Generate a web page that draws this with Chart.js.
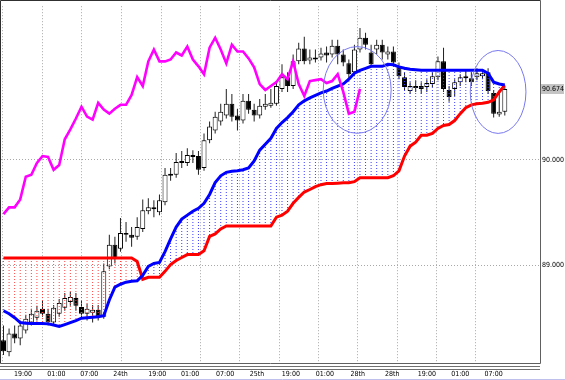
<!DOCTYPE html>
<html><head><meta charset="utf-8">
<script src="https://cdn.jsdelivr.net/npm/chart.js@4.4.1/dist/chart.umd.min.js"></script>
<style>html,body{margin:0;padding:0;background:#fff;overflow:hidden}canvas{display:block}</style>
</head><body>
<canvas id="c" width="565" height="380"></canvas>
<script>
// ---- hourly candles (bar index 0..90) ----
const opens = [88.290,88.178,88.355,88.308,88.383,88.458,88.505,88.589,88.542,88.458,
88.542,88.598,88.654,88.692,88.607,88.542,88.551,88.579,88.514,88.991,
89.196,89.159,89.308,89.290,89.271,89.346,89.514,89.551,89.505,89.598,
89.850,89.860,89.972,89.972,90.047,90.037,89.925,90.187,90.280,90.364,
90.421,90.533,90.421,90.374,90.561,90.477,90.421,90.505,90.514,90.533,
90.673,90.785,90.701,90.935,91.056,90.944,90.953,90.972,91.019,91.000,
91.084,91.000,90.916,90.832,91.047,91.159,91.019,91.047,91.093,91.000,
91.028,90.879,90.785,90.654,90.682,90.701,90.692,90.720,90.785,90.935,
90.664,90.673,90.738,90.776,90.776,90.785,90.794,90.832,90.636,90.430,
90.458];
const highs = [88.430,88.402,88.430,88.477,88.533,88.589,88.617,88.664,88.589,88.626,
88.682,88.738,88.748,88.738,88.664,88.636,88.626,88.626,89.019,89.290,
89.271,89.449,89.411,89.364,89.458,89.626,89.636,89.617,89.673,89.925,
89.925,90.065,90.084,90.112,90.093,90.084,90.252,90.364,90.458,90.533,
90.673,90.626,90.486,90.626,90.626,90.533,90.579,90.626,90.673,90.738,
90.907,90.832,91.000,91.112,91.168,91.047,91.047,91.065,91.075,91.140,
91.140,91.047,90.953,91.093,91.252,91.206,91.093,91.140,91.140,91.075,
91.075,90.925,90.832,90.738,90.757,90.738,90.766,90.832,90.981,91.065,
90.701,90.766,90.813,90.860,90.832,90.869,90.860,90.869,90.664,90.645,
90.692];
const lows = [88.150,88.140,88.262,88.243,88.355,88.430,88.477,88.514,88.430,88.430,
88.514,88.570,88.617,88.570,88.495,88.477,88.458,88.477,88.495,88.963,
89.019,89.131,89.224,89.178,89.243,89.318,89.486,89.458,89.477,89.570,
89.804,89.832,89.925,89.944,89.972,89.860,89.897,90.159,90.252,90.327,
90.393,90.364,90.280,90.346,90.439,90.364,90.393,90.477,90.495,90.514,
90.645,90.645,90.673,90.907,90.907,90.907,90.925,90.944,90.925,90.972,
90.907,90.888,90.766,90.794,91.019,91.047,90.879,91.000,90.953,90.953,
90.888,90.766,90.654,90.626,90.645,90.626,90.645,90.692,90.757,90.645,
90.551,90.607,90.701,90.738,90.701,90.757,90.766,90.626,90.402,90.411,
90.421];
const closes = [88.187,88.355,88.308,88.430,88.495,88.542,88.570,88.542,88.458,88.598,
88.645,88.692,88.701,88.617,88.542,88.589,88.579,88.514,88.944,89.196,
89.065,89.308,89.290,89.262,89.364,89.523,89.551,89.533,89.617,89.860,
89.869,89.981,89.991,90.047,90.028,89.907,90.187,90.318,90.411,90.458,
90.533,90.411,90.374,90.561,90.477,90.421,90.514,90.533,90.542,90.701,
90.785,90.701,90.935,91.056,90.935,90.972,90.972,91.009,90.991,91.084,
91.000,90.925,90.813,91.047,91.159,91.093,90.907,91.093,91.019,91.028,
90.925,90.794,90.692,90.701,90.701,90.673,90.729,90.794,90.935,90.673,
90.598,90.738,90.785,90.794,90.738,90.822,90.822,90.654,90.439,90.458,
90.674];
// ---- lagging span (plotted from bar 0, 26 bars back) ----
const chikou = [89.486,89.551,89.551,89.626,89.841,89.860,89.972,90.037,90.028,89.907,
89.953,90.196,90.290,90.393,90.505,90.411,90.383,90.542,90.477,90.439,
90.486,90.523,90.523,90.617,90.785,90.701,90.935,91.047,90.935,90.935,
90.953,91.019,90.991,91.075,90.953,90.888,90.813,91.065,91.159,91.047,
90.916,91.093,91.028,91.028,90.963,90.879,90.720,90.664,90.701,90.738,
90.813,90.766,90.935,90.720,90.607,90.748,90.757,90.766,90.729,90.748,
90.813,90.645,90.439,90.458,90.674];
// ---- leading spans ----
const spanA = [88.570,88.542,88.505,88.458,88.453,88.449,88.449,88.449,88.446,88.435,
88.421,88.439,88.458,88.477,88.500,88.505,88.509,88.514,88.523,88.673,
88.794,88.822,88.841,88.850,88.855,88.907,88.991,89.019,89.028,89.131,
89.252,89.364,89.439,89.477,89.514,89.542,89.589,89.673,89.785,89.850,
89.883,89.893,89.897,89.907,89.925,89.991,90.093,90.150,90.206,90.299,
90.355,90.402,90.458,90.523,90.561,90.589,90.612,90.636,90.654,90.678,
90.701,90.720,90.766,90.822,90.850,90.869,90.888,90.888,90.888,90.907,
90.902,90.883,90.869,90.860,90.855,90.850,90.850,90.850,90.850,90.850,
90.850,90.850,90.850,90.850,90.850,90.850,90.850,90.822,90.738,90.720,
90.710];
const spanB = [89.070,89.070,89.070,89.070,89.070,89.070,89.070,89.070,89.070,89.070,
89.070,89.070,89.070,89.070,89.070,89.070,89.070,89.070,89.070,89.070,
89.070,89.070,89.070,89.070,89.037,88.869,88.888,88.888,88.888,88.944,
89.009,89.047,89.075,89.103,89.103,89.103,89.140,89.275,89.299,89.346,
89.374,89.374,89.374,89.374,89.374,89.374,89.374,89.374,89.374,89.458,
89.477,89.514,89.589,89.645,89.696,89.720,89.748,89.766,89.776,89.776,
89.780,89.785,89.785,89.794,89.832,89.832,89.832,89.832,89.832,89.832,
89.850,89.897,90.037,90.131,90.168,90.234,90.234,90.252,90.299,90.327,
90.336,90.374,90.439,90.495,90.523,90.533,90.537,90.547,90.570,90.645,
90.710];
// ---- axes ----
const gridBars = [-0.09,7.09,14.09,21.1,28.3,35.3,42.3,49.5,56.5,63.5,70.8,77.8,84.7];
const timeLabelBars = [3.5,9.5,15.4,21,27.6,33.5,39.8,45.5,51.6,57.7,63.6,69.8,76,82,88];
const timeLabels = ['19:00','01:00','07:00','24th','19:00','01:00','07:00','25th','19:00','01:00','28th','28th','19:00','01:00','07:00'];
const priceTicks = [89, 90];
const lastPrice = 90.674;
// ---- highlighted zones (ellipses, in bar / price units) ----
const zoneBars = [63.5, 88.8];
const zonePrices = [90.664, 90.645];
const zoneBarRadii = [6.1, 5.0];
const zonePriceRadii = [0.411, 0.393];

const X_MIN = -0.449, X_MAX = 96.32, Y_MIN = 88.075, Y_MAX = 91.458;

Chart.defaults.font.family = "'Liberation Sans Narrow','DejaVu Sans Condensed','Liberation Sans',sans-serif";
Chart.defaults.font.size = 7;
Chart.defaults.color = '#000';

function dotPattern(color){
  const c = document.createElement('canvas'); c.width = 1; c.height = 3;
  const g = c.getContext('2d'); g.fillStyle = color; g.fillRect(0,0,1,1);
  return g.createPattern(c, 'repeat');
}
const bluePat = dotPattern('#3a3aff');
const redPat = dotPattern('#ff4040');
const idx = closes.map((_, i) => i);

const decor = {
  id: 'decor',
  beforeDraw(chart){
    const ctx = chart.ctx, y = chart.scales.y, a = chart.chartArea;
    const py = Math.round(y.getPixelForValue(lastPrice));
    ctx.save(); ctx.fillStyle = '#c4c4c4';
    ctx.fillRect(a.right + 1, py - 5, 23, 10);
    ctx.restore();
  },
  afterDatasetsDraw(chart){
    const ctx = chart.ctx, xs = chart.scales.x, ys = chart.scales.y;
    ctx.save(); ctx.strokeStyle = '#7878f0'; ctx.lineWidth = 1;
    zoneBars.forEach((b, k) => {
      const cx = xs.getPixelForValue(b), cy = ys.getPixelForValue(zonePrices[k]);
      const rx = Math.abs(xs.getPixelForValue(b + zoneBarRadii[k]) - cx);
      const ry = Math.abs(ys.getPixelForValue(zonePrices[k] + zonePriceRadii[k]) - cy);
      ctx.beginPath(); ctx.ellipse(cx, cy, rx, ry, 0, 0, Math.PI * 2); ctx.stroke();
    });
    ctx.restore();
  },
  afterDraw(chart){
    const ctx = chart.ctx, a = chart.chartArea, W = chart.width, H = chart.height;
    ctx.save();
    ctx.lineWidth = 1;
    ctx.strokeStyle = '#303030';
    ctx.beginPath();
    ctx.moveTo(0.5, a.bottom + 0.5); ctx.lineTo(0.5, 0.5); ctx.lineTo(a.right + 0.5, 0.5);
    ctx.stroke();
    ctx.strokeStyle = '#606060';
    ctx.beginPath();
    ctx.moveTo(a.right + 0.5, 0.5); ctx.lineTo(a.right + 0.5, a.bottom + 0.5); ctx.lineTo(0.5, a.bottom + 0.5);
    ctx.stroke();
    ctx.strokeStyle = '#707070';
    ctx.beginPath();
    ctx.moveTo(0, a.bottom + 3.5); ctx.lineTo(a.right, a.bottom + 3.5);
    ctx.moveTo(0, a.bottom + 6.5); ctx.lineTo(a.right, a.bottom + 6.5);
    ctx.stroke();
    ctx.strokeStyle = '#c0c0ec';
    ctx.beginPath(); ctx.moveTo(0, H - 0.5); ctx.lineTo(W, H - 0.5); ctx.stroke();
    ctx.restore();
  }
};

new Chart(document.getElementById('c'), {
  type: 'bar',
  data: {
    datasets: [
      {type:'line', label:'Chikou', data: chikou.map((v, j) => ({x:j, y:v})), borderColor:'#ff00ff', borderWidth:2.6, pointRadius:0, tension:0, order:0},
      {type:'line', label:'Span A', data: spanA.map((v, i) => ({x:i, y:v})), borderColor:'#0000ff', borderWidth:3, pointRadius:0, tension:0, order:1},
      {type:'line', label:'Span B', data: spanB.map((v, i) => ({x:i, y:v})), borderColor:'#ff0000', borderWidth:3, pointRadius:0, tension:0, order:2},
      {type:'bar', label:'Cloud', data: idx.map(i => ({x:i, y:[spanA[i], spanB[i]]})),
        backgroundColor: c => spanA[c.dataIndex] >= spanB[c.dataIndex] ? bluePat : redPat,
        borderWidth:0, barThickness:1, inflateAmount:0, grouped:false, order:3},
      {type:'bar', label:'Body', data: idx.map(i => ({x:i, y:[opens[i], closes[i]]})),
        backgroundColor: c => closes[c.dataIndex] >= opens[c.dataIndex] ? '#ffffff' : '#000000',
        borderColor:'#000000', borderWidth:1, borderSkipped:false, barThickness:5, inflateAmount:0, grouped:false, order:4},
      {type:'bar', label:'Wick', data: idx.map(i => ({x:i, y:[lows[i], highs[i]]})),
        backgroundColor:'#202020', borderWidth:0, barThickness:1, inflateAmount:0, grouped:false, order:5}
    ]
  },
  options: {
    responsive:false, animation:false, devicePixelRatio:1,
    layout:{padding:{left:1, top:1, right:0, bottom:0}},
    plugins:{legend:{display:false}, tooltip:{enabled:false}},
    scales:{
      x:{type:'linear', position:'bottom', min:X_MIN, max:X_MAX, offset:false,
        grid:{display:true, offset:false, color:'#a8a8a8', lineWidth:1, drawTicks:false},
        border:{display:false, dash:[1,2]},
        ticks:{display:false},
        afterBuildTicks: s => { s.ticks = gridBars.map(v => ({value:v})); },
        afterFit: s => { s.height = 0; }},
      x2:{type:'linear', position:'bottom', min:X_MIN, max:X_MAX, offset:false,
        grid:{display:false, drawTicks:false}, border:{display:false},
        ticks:{autoSkip:false, maxRotation:0, minRotation:0, padding:7, callback:(v, i) => timeLabels[i]},
        afterBuildTicks: s => { s.ticks = timeLabelBars.map(v => ({value:v})); },
        afterFit: s => { s.height = 17; }},
      y:{type:'linear', position:'right', min:Y_MIN, max:Y_MAX,
        grid:{color: c => (c.tick && c.tick.value === lastPrice) ? 'rgba(0,0,0,0)' : '#a8a8a8', drawTicks:false},
        border:{display:false, dash:[1,2]},
        ticks:{autoSkip:false, padding:2, callback: v => Number(v).toFixed(3)},
        afterBuildTicks: s => { s.ticks = priceTicks.concat([lastPrice]).map(v => ({value:v})); },
        afterFit: s => { s.width = 25; }}
    }
  },
  plugins:[decor]
});
</script>
</body></html>
